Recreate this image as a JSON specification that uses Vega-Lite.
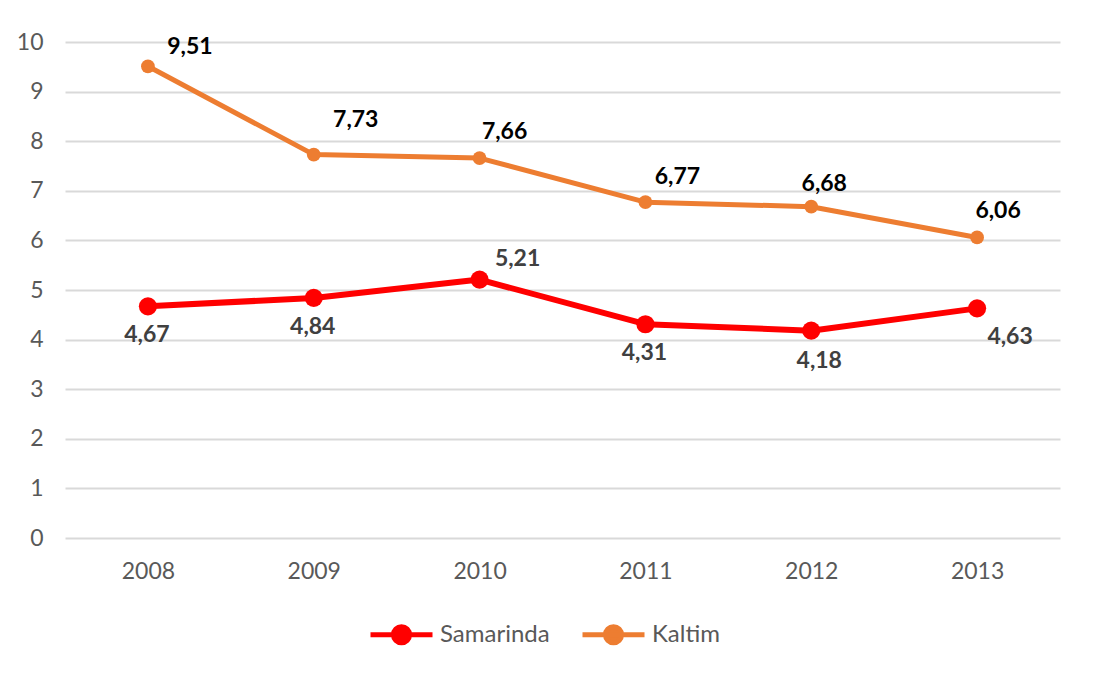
{
  "$schema": "https://vega.github.io/schema/vega-lite/v6.json",
  "width": 995,
  "height": 496,
  "autosize": {"type": "none"},
  "padding": {"left": 65, "top": 42, "right": 34, "bottom": 149},
  "background": "white",
  "config": {
    "locale": {"number": {"decimal": ",", "thousands": ".", "grouping": [3], "currency": ["", ""]}},
    "font": "Lato",
    "view": {"stroke": null},
    "axis": {"labelFont": "Lato", "labelFontSize": 23, "labelColor": "#595959", "domain": false, "ticks": false, "title": null, "gridColor": "#d9d9d9", "gridWidth": 2}
  },
  "data": {
    "values": [
      {"year": "2008", "series": "Samarinda", "value": 4.67},
      {"year": "2009", "series": "Samarinda", "value": 4.84},
      {"year": "2010", "series": "Samarinda", "value": 5.21},
      {"year": "2011", "series": "Samarinda", "value": 4.31},
      {"year": "2012", "series": "Samarinda", "value": 4.18},
      {"year": "2013", "series": "Samarinda", "value": 4.63},
      {"year": "2008", "series": "Kaltim", "value": 9.51},
      {"year": "2009", "series": "Kaltim", "value": 7.73},
      {"year": "2010", "series": "Kaltim", "value": 7.66},
      {"year": "2011", "series": "Kaltim", "value": 6.77},
      {"year": "2012", "series": "Kaltim", "value": 6.68},
      {"year": "2013", "series": "Kaltim", "value": 6.06}
    ]
  },
  "encoding": {
    "x": {"field": "year", "type": "ordinal", "scale": {"type": "point", "padding": 0.5},
          "axis": {"labelAngle": 0, "grid": false, "labelPadding": 22}},
    "y": {"field": "value", "type": "quantitative", "scale": {"domain": [0, 10], "nice": false},
          "axis": {"values": [0,1,2,3,4,5,6,7,8,9,10], "labelPadding": 22}}
  },
  "layer": [
    {
      "mark": {"type": "line", "strokeCap": "round", "strokeJoin": "round"},
      "encoding": {
        "color": {"field": "series", "type": "nominal",
                  "scale": {"domain": ["Samarinda", "Kaltim"], "range": ["#ff0000", "#ed7d31"]},
                  "legend": {"orient": "none", "direction": "horizontal", "legendX": 303, "legendY": 559,
                             "title": null, "padding": 0,
                             "symbolType": "M-1,0L1,0M-0.26,0A0.26,0.26 0 1,1 0.26,0A0.26,0.26 0 1,1 -0.26,0Z",
                             "symbolSize": 3844, "symbolStrokeWidth": 5, "symbolOpacity": 1,
                             "labelFont": "Lato", "labelFontSize": 24, "labelColor": "#595959",
                             "labelOffset": 5, "columnPadding": 22}},
        "strokeWidth": {"condition": {"test": "datum.series == 'Samarinda'", "value": 6}, "value": 5}
      }
    },
    {
      "mark": {"type": "point", "filled": true, "opacity": 1},
      "encoding": {
        "color": {"field": "series", "type": "nominal"},
        "size": {"condition": {"test": "datum.series == 'Samarinda'", "value": 330}, "value": 190}
      }
    },
    {
      "transform": [{"filter": "datum.series == 'Kaltim' && datum.year == '2008'"}],
      "mark": {"type": "text", "fontSize": 23, "fontWeight": "bold", "color": "#000000", "dx": 42, "dy": -19},
      "encoding": {"text": {"field": "value", "type": "quantitative", "format": ".2f"}}
    },
    {
      "transform": [{"filter": "datum.series == 'Kaltim' && datum.year == '2009'"}],
      "mark": {"type": "text", "fontSize": 23, "fontWeight": "bold", "color": "#000000", "dx": 42, "dy": -35},
      "encoding": {"text": {"field": "value", "type": "quantitative", "format": ".2f"}}
    },
    {
      "transform": [{"filter": "datum.series == 'Kaltim' && datum.year == '2010'"}],
      "mark": {"type": "text", "fontSize": 23, "fontWeight": "bold", "color": "#000000", "dx": 25, "dy": -26},
      "encoding": {"text": {"field": "value", "type": "quantitative", "format": ".2f"}}
    },
    {
      "transform": [{"filter": "datum.series == 'Kaltim' && datum.year == '2011'"}],
      "mark": {"type": "text", "fontSize": 23, "fontWeight": "bold", "color": "#000000", "dx": 32, "dy": -25},
      "encoding": {"text": {"field": "value", "type": "quantitative", "format": ".2f"}}
    },
    {
      "transform": [{"filter": "datum.series == 'Kaltim' && datum.year == '2012'"}],
      "mark": {"type": "text", "fontSize": 23, "fontWeight": "bold", "color": "#000000", "dx": 13, "dy": -23},
      "encoding": {"text": {"field": "value", "type": "quantitative", "format": ".2f"}}
    },
    {
      "transform": [{"filter": "datum.series == 'Kaltim' && datum.year == '2013'"}],
      "mark": {"type": "text", "fontSize": 23, "fontWeight": "bold", "color": "#000000", "dx": 21, "dy": -26},
      "encoding": {"text": {"field": "value", "type": "quantitative", "format": ".2f"}}
    },
    {
      "transform": [{"filter": "datum.series == 'Samarinda' && (datum.year == '2008' || datum.year == '2009' || datum.year == '2011')"}],
      "mark": {"type": "text", "fontSize": 23, "fontWeight": "bold", "color": "#404040", "dx": -1, "dy": 29},
      "encoding": {"text": {"field": "value", "type": "quantitative", "format": ".2f"}}
    },
    {
      "transform": [{"filter": "datum.series == 'Samarinda' && datum.year == '2012'"}],
      "mark": {"type": "text", "fontSize": 23, "fontWeight": "bold", "color": "#404040", "dx": 8, "dy": 30},
      "encoding": {"text": {"field": "value", "type": "quantitative", "format": ".2f"}}
    },
    {
      "transform": [{"filter": "datum.series == 'Samarinda' && datum.year == '2010'"}],
      "mark": {"type": "text", "fontSize": 23, "fontWeight": "bold", "color": "#404040", "dx": 38, "dy": -21},
      "encoding": {"text": {"field": "value", "type": "quantitative", "format": ".2f"}}
    },
    {
      "transform": [{"filter": "datum.series == 'Samarinda' && datum.year == '2013'"}],
      "mark": {"type": "text", "fontSize": 23, "fontWeight": "bold", "color": "#404040", "dx": 33, "dy": 29},
      "encoding": {"text": {"field": "value", "type": "quantitative", "format": ".2f"}}
    }
  ]
}
